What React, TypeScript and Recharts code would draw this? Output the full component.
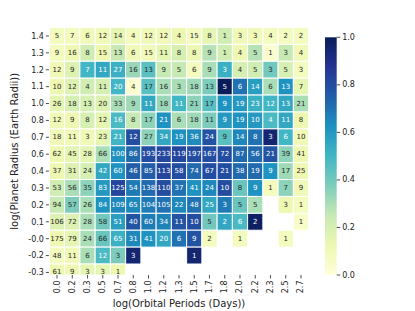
import React from 'react';
import { ScatterChart, Scatter, XAxis, YAxis } from 'recharts';

const colLabels = ['0.0', '0.2', '0.3', '0.5', '0.7', '0.8', '1.0', '1.2', '1.3', '1.5', '1.7', '1.8', '2.0', '2.2', '2.3', '2.5', '2.7'];
const rowLabels = ['1.4', '1.3', '1.2', '1.1', '1.0', '0.8', '0.7', '0.6', '0.4', '0.3', '0.2', '0.1', '-0.0', '-0.2', '-0.3'];

const _ = null;

// number written in each cell
const counts: (number | null)[][] = [
  [5, 7, 6, 12, 14, 4, 12, 12, 4, 15, 8, 1, 3, 3, 4, 2, 2],
  [9, 16, 8, 15, 13, 6, 15, 11, 8, 8, 9, 1, 4, 5, 1, 3, 4],
  [12, 9, 7, 11, 27, 16, 13, 9, 5, 6, 9, 3, 4, 5, 3, 5, 3],
  [10, 12, 4, 11, 20, 4, 17, 16, 3, 18, 13, 5, 6, 14, 6, 13, 7],
  [26, 18, 13, 20, 33, 9, 11, 18, 11, 21, 17, 9, 19, 23, 12, 13, 21],
  [12, 9, 8, 12, 16, 8, 17, 21, 6, 18, 11, 9, 19, 10, 4, 11, 8],
  [18, 11, 3, 23, 21, 12, 27, 34, 19, 36, 24, 9, 14, 8, 3, 6, 10],
  [62, 45, 28, 66, 100, 86, 193, 233, 119, 197, 167, 72, 87, 56, 21, 39, 41],
  [37, 31, 24, 42, 60, 46, 85, 113, 58, 74, 67, 21, 38, 19, 9, 17, 25],
  [53, 56, 35, 83, 125, 54, 138, 110, 37, 41, 24, 10, 8, 9, 1, 7, 9],
  [94, 57, 26, 84, 109, 65, 104, 105, 22, 48, 25, 3, 5, 5, _, 3, 1],
  [106, 72, 28, 58, 51, 40, 60, 34, 11, 10, 5, 2, 6, 2, _, _, 1],
  [175, 79, 24, 66, 65, 31, 41, 20, 6, 9, 2, _, 1, _, _, 1, _],
  [48, 11, 6, 12, 3, 3, _, _, _, 1, _, _, _, _, _, _, _],
  [61, 9, 3, 3, 1, _, _, _, _, _, _, _, _, _, _, _, _],
];

// colour value (0..1) of each cell
const shades: (number | null)[][] = [
  [0.08, 0.08, 0.1, 0.1, 0.15, 0.08, 0.1, 0.1, 0.12, 0.08, 0.15, 0.22, 0.1, 0.1, 0.08, 0.08, 0.08],
  [0.08, 0.12, 0.22, 0.12, 0.25, 0.1, 0.1, 0.15, 0.2, 0.12, 0.28, 0.22, 0.12, 0.28, 0.03, 0.25, 0.1],
  [0.1, 0.18, 0.5, 0.55, 0.52, 0.33, 0.45, 0.25, 0.25, 0.08, 0.3, 0.52, 0.2, 0.22, 0.4, 0.2, 0.08],
  [0.12, 0.18, 0.22, 0.2, 0.5, 0.03, 0.45, 0.3, 0.3, 0.32, 0.38, 1.0, 0.7, 0.58, 0.3, 0.62, 0.15],
  [0.15, 0.2, 0.2, 0.18, 0.3, 0.32, 0.55, 0.33, 0.5, 0.35, 0.45, 0.62, 0.6, 0.52, 0.5, 0.55, 0.3],
  [0.1, 0.12, 0.2, 0.15, 0.48, 0.25, 0.35, 0.62, 0.3, 0.32, 0.38, 0.6, 0.62, 0.6, 0.48, 0.55, 0.12],
  [0.1, 0.1, 0.1, 0.15, 0.5, 0.8, 0.35, 0.55, 0.62, 0.64, 0.78, 0.45, 0.65, 0.7, 0.95, 0.5, 0.1],
  [0.12, 0.15, 0.15, 0.3, 0.62, 0.72, 0.8, 0.82, 0.82, 0.8, 0.8, 0.8, 0.72, 0.72, 0.78, 0.35, 0.12],
  [0.12, 0.18, 0.2, 0.55, 0.62, 0.75, 0.75, 0.82, 0.8, 0.72, 0.8, 0.8, 0.72, 0.72, 0.62, 0.32, 0.12],
  [0.22, 0.3, 0.35, 0.6, 0.82, 0.68, 0.72, 0.8, 0.7, 0.62, 0.65, 0.8, 0.42, 0.62, 0.08, 0.35, 0.1],
  [0.25, 0.38, 0.3, 0.62, 0.65, 0.65, 0.68, 0.7, 0.65, 0.7, 0.55, 0.68, 0.42, 0.3, _, 0.12, 0.08],
  [0.18, 0.18, 0.3, 0.4, 0.58, 0.78, 0.68, 0.66, 0.78, 0.8, 0.4, 0.55, 0.48, 0.98, _, _, 0.05],
  [0.12, 0.15, 0.3, 0.42, 0.52, 0.65, 0.62, 0.55, 0.7, 0.78, 0.08, _, 0.08, _, _, 0.08, _],
  [0.08, 0.1, 0.3, 0.48, 0.38, 0.95, _, _, _, 0.95, _, _, _, _, _, _, _],
  [0.12, 0.12, 0.15, 0.15, 0.12, _, _, _, _, _, _, _, _, _, _, _, _],
];

const colorbarTicks = [0, 0.2, 0.4, 0.6, 0.8, 1.0];

const YLGNBU = ['#ffffd9', '#edf8b1', '#c7e9b4', '#7fcdbb', '#41b6c4', '#1d91c0', '#225ea8', '#253494', '#081d58'];

const hexToRgb = (h: string) => [1, 3, 5].map((i) => parseInt(h.slice(i, i + 2), 16));

function ylgnbu(t: number) {
  const p = Math.max(0, Math.min(1, t)) * (YLGNBU.length - 1);
  const i = Math.min(Math.floor(p), YLGNBU.length - 2);
  const f = p - i;
  const a = hexToRgb(YLGNBU[i]);
  const b = hexToRgb(YLGNBU[i + 1]);
  const c = a.map((v, k) => Math.round(v + (b[k] - v) * f));
  return `rgb(${c[0]},${c[1]},${c[2]})`;
}

function luminance(rgb: string) {
  const [r, g, b] = rgb.match(/\d+/g)!.map((v) => {
    const s = Number(v) / 255;
    return s <= 0.03928 ? s / 12.92 : Math.pow((s + 0.055) / 1.055, 2.4);
  });
  return 0.2126 * r + 0.7152 * g + 0.0722 * b;
}

const cells: { col: number; row: number; count: number; shade: number }[] = [];
rowLabels.forEach((_r, r) =>
  colLabels.forEach((_c, c) => {
    const n = counts[r][c];
    if (n !== null) cells.push({ col: c, row: r, count: n, shade: shades[r][c] ?? 0 });
  })
);

const W = 415;
const H = 311;
const MARGIN = { top: 27.5, right: 106.4, left: 0, bottom: 0 };
const Y_AXIS_W = 49.4;
const X_AXIS_H = 36;
const Y_MAX = 14.15; // the axis cuts through the last row
const plotW = W - MARGIN.right - Y_AXIS_W;
const plotH = H - MARGIN.top - X_AXIS_H;
const plotBottom = MARGIN.top + plotH;
const colW = plotW / colLabels.length;
const rowH = plotH / (Y_MAX + 0.5);

const FONT = 'DejaVu Sans, sans-serif';

const CellShape = (props: any) => {
  const { cx, cy, payload } = props;
  const fill = ylgnbu(payload.shade);
  const textColor = luminance(fill) > 0.408 ? '#262626' : '#ffffff';
  const top = cy - rowH / 2;
  const bottom = Math.min(cy + rowH / 2, plotBottom);
  return (
    <g>
      <rect x={cx - colW / 2} y={top} width={colW} height={bottom - top} fill={fill} stroke="#ffffff" strokeWidth={1} />
      <text x={cx} y={cy} textAnchor="middle" dominantBaseline="central" fontSize={7} fontFamily={FONT} fill={textColor}>
        {payload.count}
      </text>
    </g>
  );
};

const XTick = (props: any) => {
  const { x, y, payload } = props;
  return (
    <text
      transform={`translate(${x},${y}) rotate(-90)`}
      textAnchor="end"
      dominantBaseline="central"
      fontSize={8}
      fontFamily={FONT}
      fill="#222"
    >
      {colLabels[payload.value]}
    </text>
  );
};

const CB = { x: 325, y: 37.3, w: 11.7, h: 237.7 };

export default function App() {
  return (
    <div style={{ position: 'absolute', left: 0, top: 0, width: W, height: H, background: '#fff' }}>
      <ScatterChart width={W} height={H} margin={MARGIN}>
        <XAxis
          dataKey="col"
          type="number"
          domain={[-0.5, colLabels.length - 0.5]}
          ticks={colLabels.map((_l, i) => i)}
          interval={0}
          height={X_AXIS_H}
          axisLine={false}
          tickLine={{ stroke: '#222', strokeWidth: 0.8 }}
          tickSize={3.5}
          tickMargin={2}
          tick={<XTick />}
          label={{ value: 'log(Orbital Periods (Days))', position: 'insideBottom', offset: 4, fontSize: 10, fontFamily: FONT, fill: '#222' }}
        />
        <YAxis
          dataKey="row"
          type="number"
          reversed
          allowDataOverflow
          domain={[-0.5, Y_MAX]}
          ticks={rowLabels.map((_l, i) => i)}
          interval={0}
          width={Y_AXIS_W}
          axisLine={false}
          tickLine={{ stroke: '#222', strokeWidth: 0.8 }}
          tickSize={3.5}
          tickMargin={2}
          tickFormatter={(v: number) => rowLabels[v]}
          tick={{ fontSize: 8, fontFamily: FONT, fill: '#222' }}
          label={{
            value: 'log(Planet Radius (Earth Radii))',
            angle: -90,
            position: 'insideLeft',
            offset: 14,
            fontSize: 10,
            fontFamily: FONT,
            fill: '#222',
            style: { textAnchor: 'middle' },
          }}
        />
        <Scatter data={cells} shape={<CellShape />} isAnimationActive={false} />
      </ScatterChart>
      <svg width={W} height={H} style={{ position: 'absolute', left: 0, top: 0, pointerEvents: 'none' }}>
        <defs>
          <linearGradient id="cbar" x1="0" y1="1" x2="0" y2="0">
            {YLGNBU.map((c, i) => (
              <stop key={i} offset={`${(i / (YLGNBU.length - 1)) * 100}%`} stopColor={c} />
            ))}
          </linearGradient>
        </defs>
        <rect x={CB.x} y={CB.y} width={CB.w} height={CB.h} fill="url(#cbar)" />
        {colorbarTicks.map((t) => {
          const ty = CB.y + CB.h * (1 - t);
          return (
            <g key={t}>
              <line x1={CB.x + CB.w} x2={CB.x + CB.w + 3.5} y1={ty} y2={ty} stroke="#222" strokeWidth={0.8} />
              <text x={CB.x + CB.w + 5.5} y={ty} dominantBaseline="central" fontSize={8} fontFamily={FONT} fill="#222">
                {t.toFixed(1)}
              </text>
            </g>
          );
        })}
      </svg>
    </div>
  );
}
